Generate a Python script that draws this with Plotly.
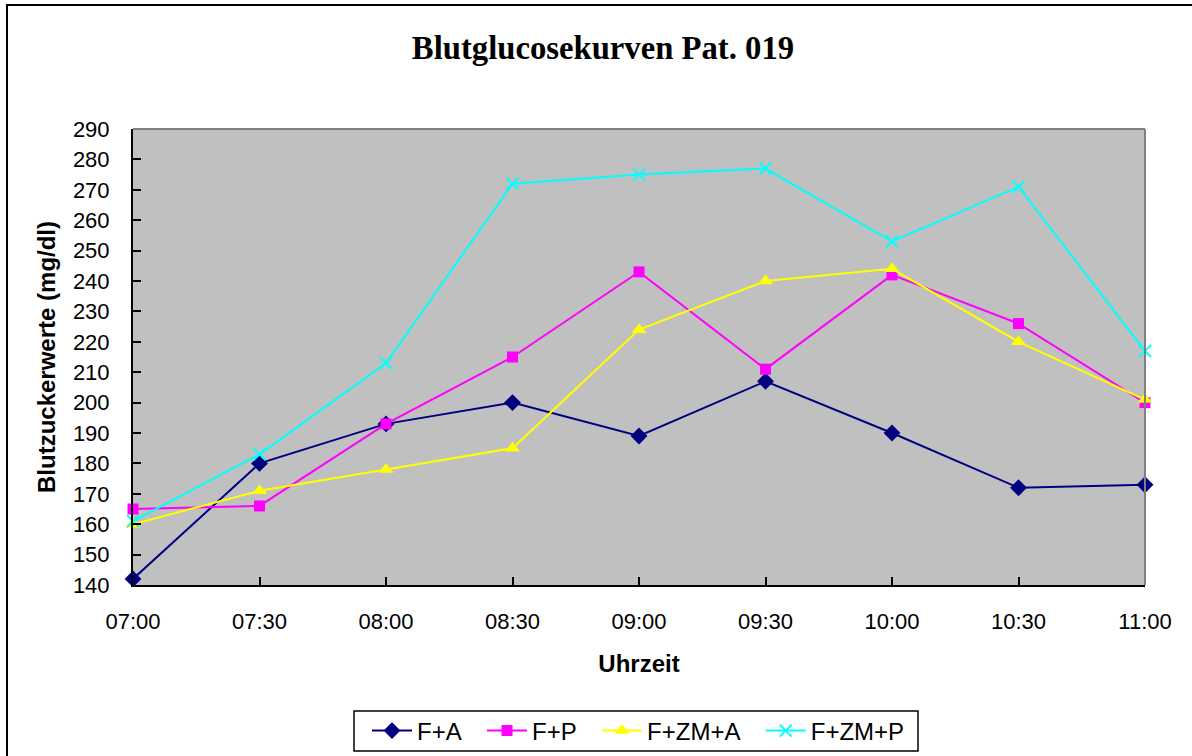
import plotly.graph_objects as go

times = ["07:00", "07:30", "08:00", "08:30", "09:00", "09:30", "10:00", "10:30", "11:00"]
f_a = [142, 180, 193, 200, 189, 207, 190, 172, 173]
f_p = [165, 166, 193, 215, 243, 211, 242, 226, 200]
f_zm_a = [160, 171, 178, 185, 224, 240, 244, 220, 201]
f_zm_p = [161, 183, 213, 272, 275, 277, 253, 271, 217]

series = [
    ("F+A", f_a, "#000080", "diamond", 13),
    ("F+P", f_p, "#FF00FF", "square", 11),
    ("F+ZM+A", f_zm_a, "#FFFF00", "triangle-up", 13),
    ("F+ZM+P", f_zm_p, "#00FFFF", "x-thin-open", 12),
]

PAD = "\u00a0\u00a0\u200a"

fig = go.Figure()
for name, vals, col, sym, sz in series:
    fig.add_trace(go.Scatter(
        x=times, y=vals, name=name + PAD, mode="lines+markers",
        line=dict(color=col, width=2),
        marker=dict(symbol=sym, size=sz, color=col, line=dict(color=col, width=2 if sym.startswith("x") else 0)),
        cliponaxis=False,
    ))

W, H = 1192, 756
L, R, T, B = 133, 1145, 129, 585
pw, ph = R - L, B - T

def px(x):
    return (x - L) / pw

def py(y):
    return (B - y) / ph

fig.update_layout(
    width=W, height=H,
    margin=dict(l=L, r=W - R, t=T, b=H - B, autoexpand=False),
    paper_bgcolor="white",
    plot_bgcolor="#C0C0C0",
    font=dict(family="Liberation Sans, Arial, sans-serif", color="black", size=22),
    title=dict(text="<b>Blutglucosekurven Pat. 019</b>",
               font=dict(family="Liberation Serif, Times New Roman, serif", size=32.7, color="black"),
               x=603 / W, xref="container", xanchor="center",
               y=1 - 48 / H, yref="container", yanchor="middle"),
    showlegend=True,
    legend=dict(orientation="h", x=px(367), y=py(731), xanchor="left", yanchor="middle",
                borderwidth=0, bgcolor="rgba(0,0,0,0)",
                font=dict(size=24), itemwidth=40, tracegroupgap=0),
    shapes=[
        dict(type="line", xref="paper", yref="paper", x0=0, x1=1, y0=1, y1=1,
             line=dict(color="#808080", width=2), layer="above"),
        dict(type="line", xref="paper", yref="paper", x0=1, x1=1, y0=0, y1=1,
             line=dict(color="#808080", width=2), layer="above"),
        dict(type="rect", xref="paper", yref="paper", x0=px(354), x1=px(918), y0=py(751), y1=py(711),
             line=dict(color="black", width=1.5), layer="above"),
        dict(type="rect", xref="paper", yref="paper", x0=px(7), x1=px(1215), y0=py(780), y1=py(5),
             line=dict(color="black", width=2), layer="above"),
    ],
)

fig.update_xaxes(
    type="category", range=[0, 8], showgrid=False, zeroline=False,
    showline=True, linecolor="black", linewidth=2,
    ticks="inside", ticklen=8, tickcolor="black", tickwidth=2,
    ticklabelstandoff=16,
    title=dict(text="<b>Uhrzeit</b>", font=dict(size=24), standoff=22),
)
fig.update_yaxes(
    range=[140, 290], dtick=10, showgrid=False, zeroline=False,
    showline=True, linecolor="black", linewidth=2,
    ticks="inside", ticklen=8, tickcolor="black", tickwidth=2,
    ticklabelstandoff=17,
    title=dict(text="<b>Blutzuckerwerte (mg/dl)</b>", font=dict(size=24), standoff=10),
)

fig.write_html("out.html")
